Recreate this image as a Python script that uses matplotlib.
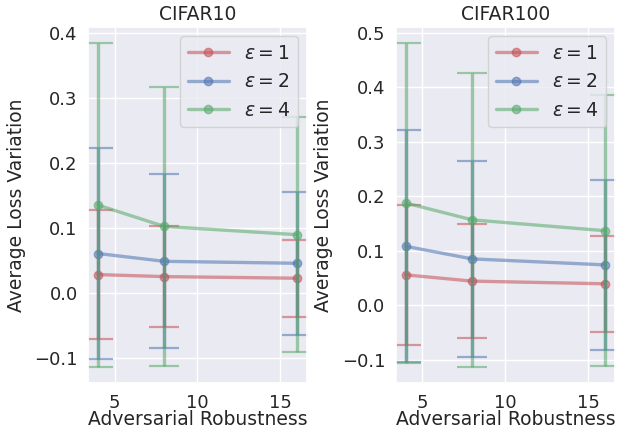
import matplotlib
matplotlib.use("Agg")
import matplotlib.pyplot as plt
import seaborn as sns

sns.set_theme(style="darkgrid")
plt.rcParams['font.family'] = ['DejaVu Sans']

robustness = [4, 8, 16]
eps_labels = [r"$\varepsilon = 1$", r"$\varepsilon = 2$", r"$\varepsilon = 4$"]
colors = ["#C44E52", "#4C72B0", "#55A868"]

# CIFAR10
c10_mean_e1 = [0.0276, 0.0245, 0.022]
c10_std_e1 = [0.099, 0.078, 0.059]
c10_mean_e2 = [0.060, 0.048, 0.045]
c10_std_e2 = [0.163, 0.134, 0.110]
c10_mean_e4 = [0.1345, 0.1017, 0.089]
c10_std_e4 = [0.249, 0.214, 0.181]

# CIFAR100
c100_mean_e1 = [0.056, 0.0445, 0.0396]
c100_std_e1 = [0.128, 0.104, 0.088]
c100_mean_e2 = [0.1084, 0.0853, 0.0743]
c100_std_e2 = [0.213, 0.180, 0.156]
c100_mean_e4 = [0.188, 0.157, 0.137]
c100_std_e4 = [0.293, 0.270, 0.249]

panels = [
    ("CIFAR10", [c10_mean_e1, c10_mean_e2, c10_mean_e4], [c10_std_e1, c10_std_e2, c10_std_e4]),
    ("CIFAR100", [c100_mean_e1, c100_mean_e2, c100_mean_e4], [c100_std_e1, c100_std_e2, c100_std_e4]),
]

fig = plt.figure(figsize=(6.25, 4.3), dpi=100)
positions = [[0.141, 0.109, 0.350, 0.828], [0.633, 0.109, 0.351, 0.828]]
fs = 13.5

for pos, (title, means, stds) in zip(positions, panels):
    ax = fig.add_axes(pos)
    for m, s, c, lab in zip(means, stds, colors, eps_labels):
        ax.errorbar(robustness, m, yerr=s, fmt="none", ecolor=c,
                    elinewidth=2.4, capsize=11, capthick=1.6, alpha=0.55)
        ax.plot(robustness, m, color=c, marker="o", markersize=6,
                linewidth=2.4, alpha=0.55, label=lab)
    ax.set_title(title, fontsize=fs, pad=5)
    ax.set_xlabel("Adversarial Robustness", fontsize=fs, labelpad=-1)
    ax.set_ylabel("Average Loss Variation", fontsize=fs, labelpad=6)
    ax.tick_params(labelsize=13, pad=1.5)
    ax.set_xticks([5, 10, 15])
    ax.legend(loc="upper right", fontsize=fs, handlelength=2.2, borderaxespad=0.5)

fig.savefig("out.png", dpi=100)
